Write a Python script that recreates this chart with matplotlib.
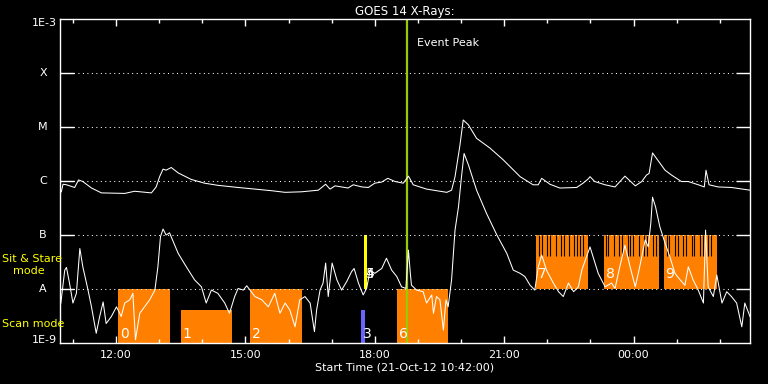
import numpy as np
import matplotlib
matplotlib.use("Agg")
import matplotlib.pyplot as plt
import matplotlib.transforms as mtransforms
from matplotlib.ticker import FixedLocator, NullLocator, FuncFormatter

# hours after 00:00 on 21-Oct-12 (values above 24 are on 22-Oct)
# long channel (1-8 A), log10 flux
t_long = [10.73, 10.77, 10.85, 11.04, 11.13, 11.23, 11.43, 11.66, 12.20, 12.43,
          12.82, 12.93, 13.01, 13.09, 13.16, 13.28, 13.44, 13.74, 14.05, 14.36,
          14.83, 15.22, 15.61, 15.92, 16.30, 16.69, 16.86, 16.96, 17.08, 17.38,
          17.50, 17.70, 17.85, 18.00, 18.16, 18.30, 18.47, 18.66, 18.78, 18.85,
          18.89, 19.20, 19.67, 19.78, 19.86, 19.97, 20.05, 20.17, 20.36, 20.67,
          20.98, 21.37, 21.67, 21.79, 21.87, 22.06, 22.29, 22.68, 22.83, 22.95,
          22.99, 23.10, 23.34, 23.57, 23.80, 24.04, 24.19, 24.30, 24.36, 24.44,
          24.53, 24.73, 24.88, 25.11, 25.27, 25.50, 25.64, 25.68, 25.75, 25.96,
          26.27, 26.70]
v_long = [-6.20, -6.06, -6.07, -6.12, -5.98, -6.01, -6.13, -6.22, -6.23, -6.19,
          -6.22, -6.11, -5.92, -5.78, -5.80, -5.75, -5.85, -5.97, -6.04, -6.08,
          -6.12, -6.15, -6.18, -6.21, -6.20, -6.17, -6.06, -6.15, -6.09, -6.13,
          -6.07, -6.11, -6.12, -6.04, -6.02, -5.95, -6.01, -6.04, -5.91, -6.01,
          -6.07, -6.15, -6.21, -6.17, -5.92, -5.36, -4.87, -4.96, -5.21, -5.39,
          -5.61, -5.92, -6.07, -6.07, -5.95, -6.06, -6.13, -6.12, -6.04, -5.96,
          -5.92, -6.01, -6.07, -6.11, -5.91, -6.09, -6.01, -5.89, -5.86, -5.48,
          -5.58, -5.80, -5.89, -6.01, -6.01, -6.07, -6.11, -5.80, -6.07, -6.11,
          -6.12, -6.17]

# short channel (0.5-4 A), log10 flux
t_short = [10.72, 10.81, 10.85, 10.92, 11.00, 11.08, 11.16, 11.23, 11.35, 11.43,
           11.54, 11.62, 11.70, 11.77, 11.89, 12.01, 12.12, 12.20, 12.32, 12.39,
           12.45, 12.55, 12.66, 12.78, 12.90, 12.97, 13.03, 13.09, 13.16, 13.24,
           13.44, 13.63, 13.82, 13.98, 14.09, 14.21, 14.36, 14.52, 14.63, 14.75,
           14.83, 14.95, 15.03, 15.22, 15.38, 15.53, 15.68, 15.80, 15.92, 16.03,
           16.15, 16.26, 16.38, 16.50, 16.60, 16.65, 16.73, 16.80, 16.86, 16.92,
           17.01, 17.12, 17.23, 17.35, 17.46, 17.52, 17.62, 17.73, 17.81, 17.89,
           18.00, 18.16, 18.27, 18.39, 18.51, 18.62, 18.72, 18.78, 18.82, 18.85,
           18.97, 19.12, 19.20, 19.32, 19.36, 19.43, 19.51, 19.59, 19.65, 19.70,
           19.78, 19.86, 19.94, 20.01, 20.07, 20.17, 20.36, 20.59, 20.83, 21.06,
           21.21, 21.37, 21.48, 21.60, 21.71, 21.79, 21.87, 21.98, 22.14, 22.26,
           22.37, 22.49, 22.61, 22.72, 22.80, 22.91, 22.99, 23.06, 23.18, 23.34,
           23.49, 23.57, 23.68, 23.80, 23.92, 24.04, 24.15, 24.27, 24.34, 24.40,
           24.44, 24.51, 24.61, 24.73, 24.84, 24.96, 25.08, 25.19, 25.27, 25.38,
           25.50, 25.62, 25.67, 25.73, 25.85, 25.93, 26.05, 26.16, 26.27, 26.39,
           26.51, 26.58, 26.70]
v_short = [-8.26, -7.65, -7.60, -7.89, -8.26, -8.08, -7.25, -7.59, -8.02, -8.33,
           -8.82, -8.51, -8.24, -8.64, -8.51, -8.33, -8.51, -8.26, -8.20, -8.08,
           -8.94, -8.45, -8.33, -8.20, -8.02, -7.59, -7.03, -6.89, -7.00, -6.96,
           -7.34, -7.59, -7.83, -7.96, -8.26, -8.02, -8.08, -8.26, -8.45, -8.14,
           -7.99, -8.02, -7.94, -8.14, -8.20, -8.33, -8.08, -8.45, -8.26, -8.39,
           -8.70, -8.20, -8.14, -8.26, -8.79, -8.39, -8.02, -7.89, -7.52, -8.14,
           -7.52, -7.83, -8.02, -7.86, -7.68, -7.62, -7.89, -8.11, -7.99, -7.65,
           -7.71, -7.62, -7.43, -7.65, -7.77, -7.96, -7.99, -7.28, -7.68, -7.93,
           -8.02, -8.05, -8.26, -8.11, -8.45, -8.14, -8.20, -8.76, -8.20, -8.33,
           -7.83, -6.91, -6.48, -5.92, -5.49, -5.70, -6.17, -6.60, -7.00, -7.34,
           -7.65, -7.71, -7.77, -7.93, -8.02, -7.59, -7.37, -7.65, -7.89, -8.05,
           -8.14, -7.89, -8.05, -7.96, -7.65, -7.40, -7.22, -7.40, -7.71, -7.96,
           -7.89, -7.99, -7.59, -7.19, -7.59, -7.96, -7.56, -7.09, -7.22, -6.78,
           -6.30, -6.48, -6.85, -7.15, -7.40, -7.71, -7.83, -7.93, -7.59, -7.83,
           -8.02, -8.26, -6.91, -7.96, -8.14, -7.74, -8.26, -8.05, -8.14, -8.26,
           -8.70, -8.26, -8.51]

# observation blocks (start/end hour, log10 low/high)
blk_label = ['0', '1', '2', '3', '4', '5', '6', '7', '8', '9']
blk_start = [12.05, 13.51, 15.11, 17.68, 17.75, 17.75, 18.51, 21.74, 23.31, 24.70]
blk_end = [13.25, 14.69, 16.30, 17.77, 17.82, 17.82, 19.69, 22.94, 24.59, 25.93]
blk_lo = [-9, -9, -9, -9, -8, -8, -9, -8, -8, -8]
blk_hi = [-8, -8.39, -8, -8.39, -7, -7, -8, -7, -7, -7]
blk_color = ['#ff8000', '#ff8000', '#ff8000', '#6666ff', '#ffff00', '#ffff00',
             '#ff8000', '#ff8000', '#ff8000', '#ff8000']

# black raster marks in the sit & stare blocks
stripe_t = [21.80, 21.87, 22.00, 22.06, 22.19, 22.31, 22.38, 22.50, 22.62, 22.69,
            22.76, 22.82,
            23.36, 23.41, 23.55, 23.67, 23.74, 23.86, 23.92, 23.99, 24.12, 24.25,
            24.31, 24.44, 24.51,
            24.77, 24.83, 24.96, 25.02, 25.15, 25.21, 25.35, 25.41, 25.54, 25.60,
            25.73, 25.79]
stripe_lo = -7.39

event_peak = 18.75

level_names = ['1E-9', 'A', 'B', 'C', 'M', 'X', '1E-3']
level_exp = [-9, -8, -7, -6, -5, -4, -3]

fs = 8
fig = plt.figure(figsize=(7.68, 3.84), dpi=100, facecolor='black')
ax = fig.add_axes([60 / 768, 41 / 384, 690 / 768, 324 / 384], facecolor='black')
ax.set_yscale('log')
ax.set_xlim(10.7, 26.7)
ax.set_ylim(1e-9, 1e-3)

# blocks
for lab, s, e, lo, hi, c in zip(blk_label, blk_start, blk_end, blk_lo, blk_hi, blk_color):
    ax.fill_between([s, e], 10.0 ** lo, 10.0 ** hi, color=c, lw=0, zorder=1)
ax.vlines(stripe_t, 10.0 ** stripe_lo, 1e-7, color='black', lw=0.8, zorder=1.5)

for lab, s, lo in zip(blk_label, blk_start, blk_lo):
    base = -8.91 if lo == -9 else -7.80
    ax.text(s + 0.04, 10.0 ** base, lab, color='white', fontsize=10,
            va='baseline', ha='left', zorder=4)

ax.axvline(event_peak, color='#99cc00', lw=1.6, zorder=2)
ax.text(event_peak + 0.23, 10.0 ** -3.44, 'Event Peak', color='white',
        fontsize=fs, va='center', ha='left')

ax.plot(t_long, 10.0 ** np.array(v_long), color='white', lw=0.75, zorder=3)
ax.plot(t_short, 10.0 ** np.array(v_short), color='white', lw=0.75, zorder=3)

# axes styling
for sp in ax.spines.values():
    sp.set_color('white')
    sp.set_linewidth(1)
ax.yaxis.set_major_locator(FixedLocator([10.0 ** k for k in level_exp[1:-1]]))
ax.yaxis.set_minor_locator(NullLocator())
ax.yaxis.set_major_formatter(FuncFormatter(lambda v, p: ''))
ax.tick_params(axis='y', which='major', direction='in', length=10, width=1,
               color='white', left=True, right=True)
ax.yaxis.grid(True, which='major', color='white', linestyle=(0, (1, 3.3)), linewidth=0.75)

ax.xaxis.set_major_locator(FixedLocator([12, 15, 18, 21, 24]))
ax.xaxis.set_minor_locator(FixedLocator([h for h in range(11, 27) if h % 3 != 0]))
ax.xaxis.set_major_formatter(FuncFormatter(lambda h, p: '%02d:00' % (int(round(h)) % 24)))
ax.tick_params(axis='x', which='major', direction='in', length=5, width=1,
               color='white', top=True, bottom=True, labelcolor='white',
               labelsize=fs, pad=5)
ax.tick_params(axis='x', which='minor', direction='in', length=2.6, width=1,
               color='white', top=True, bottom=True)

trans = mtransforms.blended_transform_factory(ax.transAxes, ax.transData)
for name, k in zip(level_names, level_exp):
    if name.startswith('1E'):
        yy = 10.0 ** (k - 0.07) if k == -3 else 10.0 ** (k + 0.05)
        ax.text(-0.004, yy, name, transform=trans, color='white', fontsize=fs,
                ha='right', va='center')
    else:
        ax.text(-0.0246, 10.0 ** k, name, transform=trans, color='white',
                fontsize=fs, ha='center', va='center')

ax.text(-0.084, 10.0 ** -7.44, 'Sit & Stare', transform=trans, color='#ffff00',
        fontsize=fs, ha='left', va='center')
ax.text(-0.068, 10.0 ** -7.67, 'mode', transform=trans, color='#ffff00',
        fontsize=fs, ha='left', va='center')
ax.text(-0.084, 10.0 ** -8.65, 'Scan mode', transform=trans, color='#ffff00',
        fontsize=fs, ha='left', va='center')

ax.set_title('GOES 14 X-Rays:', color='white', fontsize=fs + 0.5, pad=3)
ax.set_xlabel('Start Time (21-Oct-12 10:42:00)', color='white', fontsize=fs, labelpad=2)

fig.savefig('out.png', dpi=100, facecolor='black')
